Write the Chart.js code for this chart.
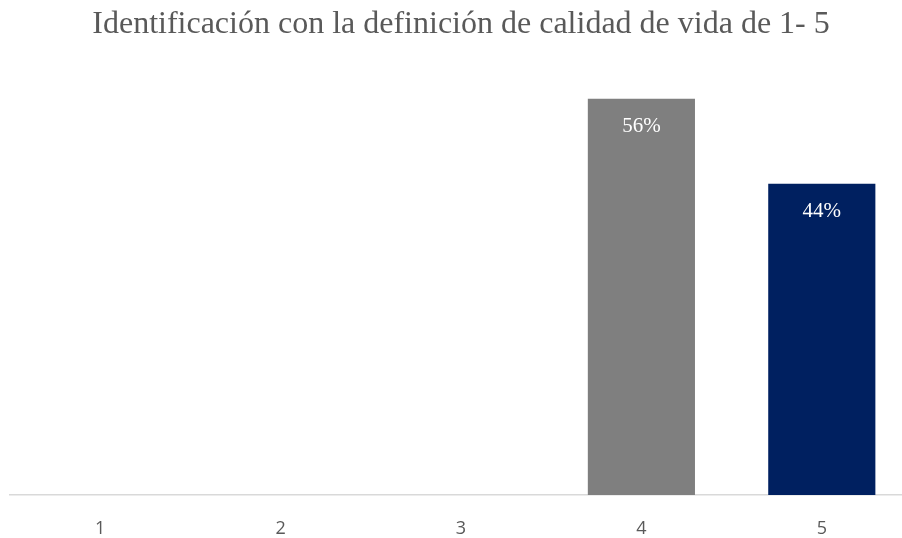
<!DOCTYPE html>
<html>
<head>
<meta charset="utf-8">
<script src="https://cdn.jsdelivr.net/npm/chart.js@4"></script>
<style>
  html, body { margin: 0; padding: 0; background: #ffffff; overflow: hidden; }
  #wrap { position: relative; width: 912px; height: 538px; }
</style>
</head>
<body>
<div id="wrap"><canvas id="chart"></canvas></div>
<script>
// Chart data
const categories = ["1", "2", "3", "4", "5"];
const values = [0, 0, 0, 56, 44];
const barColors = ["#7F7F7F", "#7F7F7F", "#7F7F7F", "#7F7F7F", "#002060"];
const titleText = "Identificación con la definición de calidad de vida de 1- 5";

// Draw the % labels inside the top of each bar
const valueLabels = {
    id: 'valueLabels',
    afterDatasetsDraw(chart) {
        const ctx = chart.ctx;
        const meta = chart.getDatasetMeta(0);
        ctx.save();
        ctx.fillStyle = '#ffffff';
        ctx.font = '21px "Liberation Serif", "Times New Roman", serif';
        ctx.textAlign = 'center';
        ctx.textBaseline = 'middle';
        meta.data.forEach((bar, i) => {
            if (!values[i]) return;
            ctx.fillText(values[i] + '%', bar.x, bar.y + 28);
        });
        ctx.restore();
    }
};

const ctx = document.getElementById('chart').getContext('2d');
new Chart(ctx, {
    type: 'bar',
    data: {
        labels: categories,
        datasets: [{
            data: values,
            backgroundColor: barColors,
            borderWidth: 0,
            categoryPercentage: 1,
            barPercentage: 0.594
        }]
    },
    options: {
        responsive: true,
        maintainAspectRatio: false,
        animation: false,
        layout: { padding: { left: 10, right: 0, top: 0, bottom: 0 } },
        plugins: {
            legend: { display: false },
            tooltip: { enabled: false },
            title: {
                display: true,
                text: titleText,
                color: '#595959',
                font: { family: '"Liberation Serif", "Times New Roman", serif', size: 32, weight: 'normal' },
                padding: { top: 5, bottom: 27 }
            }
        },
        scales: {
            x: {
                grid: { display: false },
                border: { display: true, color: '#D9D9D9', width: 1.5 },
                ticks: {
                    color: '#595959',
                    padding: 15,
                    font: { family: '"Open Sans", "Liberation Sans", sans-serif', size: 18 }
                },
                afterFit(scale) {
                    scale.height = 43;
                }
            },
            y: {
                display: false,
                min: 0,
                max: 60
            }
        }
    },
    plugins: [valueLabels]
});
</script>
</body>
</html>
